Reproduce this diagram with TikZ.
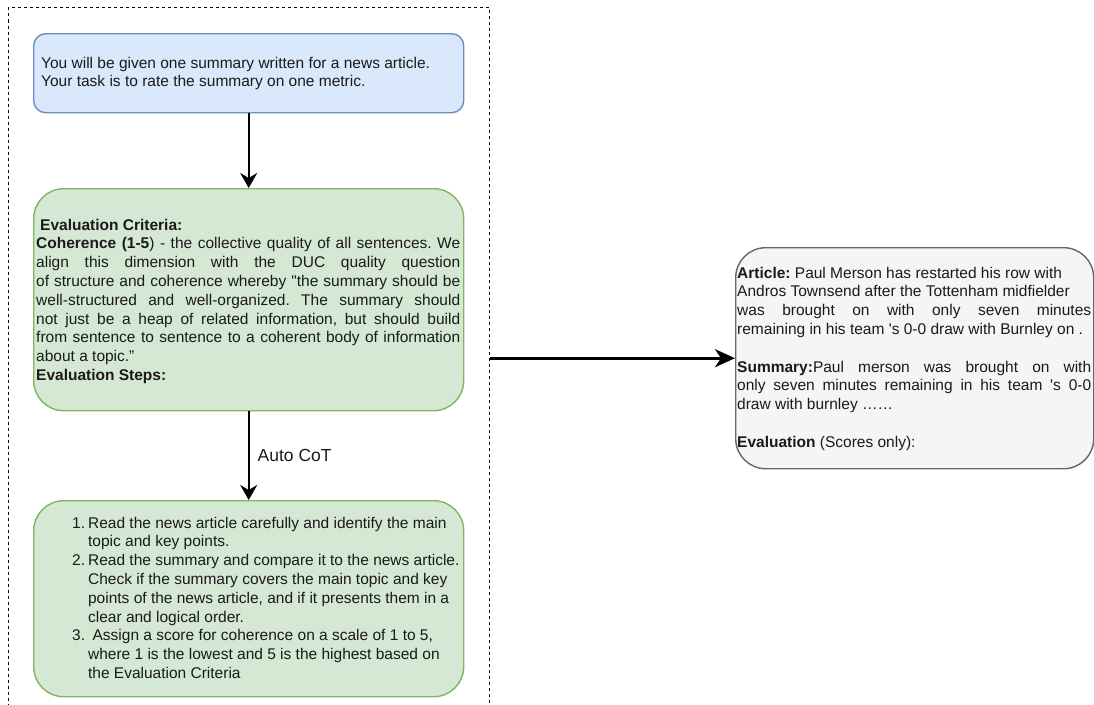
\documentclass[tikz,border=0pt]{standalone}
\usepackage{fontspec}
\newfontfamily\helv{Liberation Sans}
\usetikzlibrary{arrows.meta}

\definecolor{introFill}{HTML}{DAE8FC}
\definecolor{introLine}{HTML}{6C8EBF}
\definecolor{stepFill}{HTML}{D5E8D4}
\definecolor{stepLine}{HTML}{82B366}
\definecolor{sampleFill}{HTML}{F5F5F5}
\definecolor{sampleLine}{HTML}{666666}
\definecolor{ink}{HTML}{1A1A1A}

% a full-width justified line
\newcommand\jline[1]{\makebox[\linewidth][s]{#1}}

\tikzset{
  card/.style={rectangle, anchor=north west, inner sep=0pt, line width=1.4pt},
  txt/.style={anchor=base west, inner sep=0pt, text=ink,
    font=\helv\fontsize{15.5}{18.8}\selectfont\frenchspacing},
  flow/.style={line width=2pt, -{Stealth[length=15pt, width=17pt, inset=5pt]}},
  cotlabel/.style={anchor=west, inner sep=0pt, xshift=8pt, text=ink,
    font=\helv\fontsize{17.5}{21}\selectfont},
}

\begin{document}
\begin{tikzpicture}[x=1pt, y=-1pt]
  \useasboundingbox (0,0) rectangle (1094,704);
  \clip (0,0) rectangle (1094,704);

  % dashed container around the prompt-generation column
  \node[card, draw=black, line width=1pt, dash pattern=on 3pt off 3pt,
        minimum width=481pt, minimum height=760pt] (frame) at (8,7) {};

  % task introduction
  \node[card, draw=introLine, fill=introFill, rounded corners=12pt,
        minimum width=430pt, minimum height=79pt] (intro) at (33,33) {};
  \node[txt] (introtext) at (41,68) {\parbox[t]{420pt}{\raggedright
    You will be given one summary written for a news article.\\
    Your task is to rate the summary on one metric.}};

  % evaluation criteria
  \node[card, draw=stepLine, fill=stepFill, rounded corners=30pt,
        minimum width=430pt, minimum height=222pt] (criteria) at (33,188) {};
  \node[txt] (criteriatext) at (36,230) {\parbox[t]{424pt}{\raggedright
    \hspace{4pt}\textbf{Evaluation Criteria:}\\
    \jline{\textbf{Coherence (1-5}) - the collective quality of all sentences. We}\\
    \jline{align this dimension with the DUC quality question}\\
    \jline{of structure and coherence whereby "the summary should be}\\
    \jline{well-structured and well-organized. The summary should}\\
    \jline{not just be a heap of related information, but should build}\\
    \jline{from sentence to sentence to a coherent body of information}\\
    about a topic.”\\
    \textbf{Evaluation Steps:}}};

  % generated evaluation steps
  \node[card, draw=stepLine, fill=stepFill, rounded corners=30pt,
        minimum width=430pt, minimum height=196pt] (steps) at (33,500) {};
  \node[txt] (stepstext) at (72,528) {\begin{tabular}[t]{@{}r@{\hspace{3pt}}l@{}}
    1. & Read the news article carefully and identify the main\\
       & topic and key points.\\
    2. & Read the summary and compare it to the news article.\\
       & Check if the summary covers the main topic and key\\
       & points of the news article, and if it presents them in a\\
       & clear and logical order.\\
    3. & \hspace{4.5pt}Assign a score for coherence on a scale of 1 to 5,\\
       & where 1 is the lowest and 5 is the highest based on\\
       & the Evaluation Criteria
  \end{tabular}};

  % input sample
  \node[card, draw=sampleLine, fill=sampleFill, rounded corners=30pt,
        minimum width=358pt, minimum height=221pt] (sample) at (735,247) {};
  \node[txt] (sampletext) at (737,278) {\parbox[t]{354pt}{\raggedright
    \textbf{Article:}\ Paul Merson has restarted his row with\\
    Andros Townsend after the Tottenham midfielder\\
    \jline{was brought on with only seven minutes}\\
    remaining in his team 's 0-0 draw with Burnley on .\\[18.8pt]
    \jline{\textbf{Summary:}Paul merson was brought on with}\\
    \jline{only seven minutes remaining in his team 's 0-0}\\
    draw with burnley ……\\[18.8pt]
    \textbf{Evaluation} (Scores only):}};

  % connectors
  \draw[flow] (intro.south) -- (criteria.north);
  \draw[flow] (criteria.south) -- node[cotlabel] {Auto CoT} (steps.north);
  \draw[flow, line width=3pt, -{Stealth[length=20pt, width=18pt, inset=6pt]}]
    (frame.east |- sample.west) -- (sample.west);
\end{tikzpicture}
\end{document}
